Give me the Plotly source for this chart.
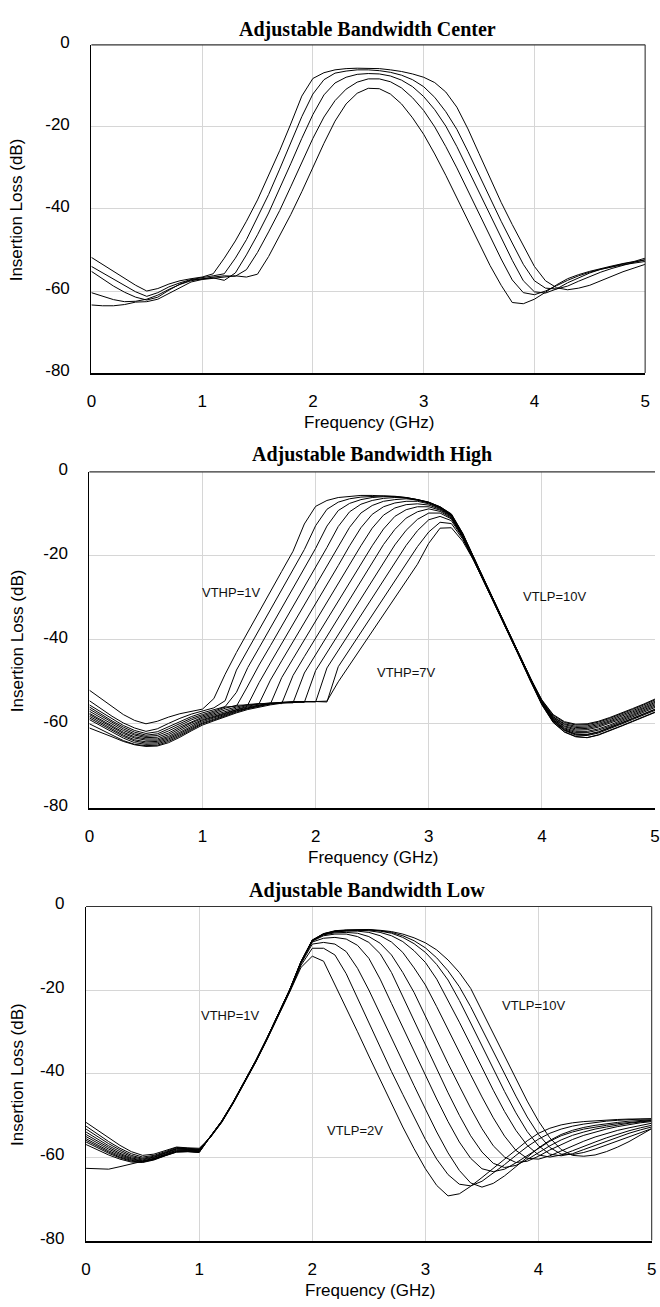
import plotly.graph_objects as go

# ---------------------------------------------------------------- data ----
freq_ghz = [0.0, 0.1, 0.2, 0.3, 0.4, 0.5, 0.6, 0.7, 0.8, 0.9, 1.0,
            1.1, 1.2, 1.3, 1.4, 1.5, 1.6, 1.7, 1.8, 1.9, 2.0,
            2.1, 2.2, 2.3, 2.4, 2.5, 2.6, 2.7, 2.8, 2.9, 3.0,
            3.1, 3.2, 3.3, 3.4, 3.5, 3.6, 3.7, 3.8, 3.9, 4.0,
            4.1, 4.2, 4.3, 4.4, 4.5, 4.6, 4.7, 4.8, 4.9, 5.0]

x_ticks = [0, 1, 2, 3, 4, 5]
y_ticks = [0, -20, -40, -60, -80]

# Adjustable Bandwidth Center (widest -> narrowest), insertion loss in dB
center_bw1 = [-51.8, -53.5, -55.3, -57.0, -58.6, -60.0, -59.4, -58.3, -57.5, -57.0, -56.6,
              -55.8, -52.0, -47.8, -43.0, -37.8, -32.0, -25.8, -19.3, -12.5, -8.2,
              -6.8, -6.1, -5.8, -5.7, -5.7, -5.8, -6.1, -6.5, -7.1, -7.9,
              -9.2, -11.5, -15.2, -20.5, -26.5, -32.6, -38.4, -43.8, -49.0, -54.0,
              -57.5, -59.2, -59.7, -59.3, -58.6, -57.5, -56.4, -55.3, -54.4, -53.5]
center_bw2 = [-54.0, -55.6, -57.2, -58.8, -60.2, -61.3, -60.4, -59.0, -58.0, -57.2, -56.8,
              -56.3, -55.8, -52.0, -47.5, -42.2, -36.5, -30.3, -24.0, -17.5, -12.0,
              -8.5, -6.9, -6.4, -6.1, -6.1, -6.3, -6.7, -7.4, -8.5, -10.2,
              -12.8, -16.3, -20.6, -26.0, -31.8, -37.6, -43.0, -48.3, -53.5, -57.5,
              -59.3, -59.5, -58.8, -57.6, -56.5, -55.4, -54.5, -53.7, -53.0, -52.4]
center_bw3 = [-55.2, -57.0, -58.8, -60.3, -61.5, -62.2, -61.5, -59.8, -58.3, -57.3, -57.0,
              -56.8, -57.4, -55.6, -51.2, -46.3, -41.0, -35.2, -29.0, -22.8, -17.0,
              -12.2, -9.3, -7.9, -7.2, -7.0, -7.1, -7.6, -8.6, -10.2, -12.6,
              -15.8, -19.8, -24.8, -30.3, -36.0, -41.6, -47.0, -52.5, -57.5, -60.2,
              -60.5, -59.5, -58.0, -56.7, -55.6, -54.7, -54.0, -53.4, -52.9, -52.4]
center_bw4 = [-60.4, -61.3, -62.1, -62.6, -62.5, -62.0, -61.0, -59.6, -58.4, -57.5, -57.0,
              -56.6, -56.3, -56.4, -54.8, -50.6, -45.6, -40.4, -34.6, -28.6, -22.8,
              -17.6, -13.6, -10.8, -9.1, -8.3, -8.3, -9.0, -10.5, -12.9, -16.0,
              -20.0, -24.8, -30.0, -35.6, -41.2, -46.7, -52.2, -57.3, -60.4, -60.9,
              -60.0, -58.7, -57.4, -56.3, -55.4, -54.7, -54.1, -53.6, -53.2, -52.8]
center_bw5 = [-63.4, -63.6, -63.6, -63.3, -62.7, -62.6, -62.0, -60.6, -59.0, -57.8, -57.2,
              -56.9, -56.5, -56.3, -56.6, -55.9, -51.6, -46.6, -41.4, -35.8, -29.9,
              -24.0, -18.6, -14.4, -11.8, -10.6, -10.7, -12.0, -14.4, -17.8, -21.8,
              -26.6, -31.8, -37.2, -42.8, -48.4, -53.8, -58.6, -62.8, -63.1, -62.0,
              -60.3, -58.5, -57.0, -56.0, -55.2, -54.5, -53.9, -53.3, -52.8, -52.0]

# Adjustable Bandwidth High: VTHP swept 1 V ... 7 V
vthp_1_0 = [-52.0, -54.0, -56.0, -57.8, -59.2, -60.0, -59.4, -58.4, -57.6, -57.0, -56.5,
            -54.0, -48.2, -43.0, -38.1, -33.3, -28.5, -23.7, -18.9, -12.4, -8.2,
            -6.8, -6.1, -5.8, -5.6, -5.6, -5.7, -5.9, -6.2, -6.7, -7.3,
            -8.3, -10.0, -14.6, -20.6, -26.3, -32.0, -37.8, -43.5, -49.2, -54.3,
            -57.8, -59.5, -60.1, -60.0, -59.4, -58.5, -57.5, -56.4, -55.3, -54.1]
vthp_1_5 = [-54.5, -56.4, -58.2, -59.8, -61.0, -61.8, -61.2, -59.9, -58.7, -57.7, -57.0,
            -56.2, -54.5, -47.2, -42.4, -37.6, -32.9, -28.1, -23.4, -18.5, -12.8,
            -8.9, -7.2, -6.4, -6.0, -5.8, -5.7, -5.8, -6.1, -6.6, -7.2,
            -8.3, -10.1, -14.7, -20.6, -26.3, -32.0, -37.8, -43.5, -49.3, -54.4,
            -58.0, -59.7, -60.3, -60.2, -59.6, -58.7, -57.7, -56.6, -55.5, -54.3]
vthp_2_0 = [-55.5, -57.2, -58.9, -60.4, -61.6, -62.3, -61.9, -60.7, -59.4, -58.3, -57.4,
            -56.6, -55.9, -52.5, -46.6, -41.9, -37.2, -32.5, -27.8, -23.1, -18.2,
            -12.9, -9.2, -7.5, -6.6, -6.1, -5.9, -5.9, -6.1, -6.6, -7.2,
            -8.4, -10.2, -14.8, -20.7, -26.4, -32.1, -37.9, -43.6, -49.4, -54.6,
            -58.3, -60.0, -60.6, -60.5, -59.9, -59.0, -58.0, -56.9, -55.8, -54.6]
vthp_2_5 = [-56.0, -57.7, -59.3, -60.8, -62.0, -62.7, -62.4, -61.2, -59.9, -58.7, -57.8,
            -57.0, -56.0, -55.8, -51.0, -46.0, -41.4, -36.7, -32.0, -27.4, -22.8,
            -18.0, -13.0, -9.5, -7.7, -6.8, -6.3, -6.1, -6.2, -6.6, -7.3,
            -8.5, -10.3, -14.9, -20.7, -26.4, -32.1, -37.9, -43.7, -49.5, -54.7,
            -58.4, -60.2, -60.9, -60.8, -60.2, -59.3, -58.3, -57.2, -56.1, -54.9]
vthp_3_0 = [-56.5, -58.1, -59.7, -61.2, -62.4, -63.0, -62.8, -61.7, -60.4, -59.1, -58.1,
            -57.3, -56.3, -55.6, -55.5, -50.2, -45.5, -40.9, -36.3, -31.7, -27.1,
            -22.5, -17.8, -13.2, -9.8, -8.0, -7.0, -6.6, -6.4, -6.7, -7.4,
            -8.6, -10.4, -15.0, -20.8, -26.5, -32.2, -38.0, -43.7, -49.5, -54.8,
            -58.6, -60.5, -61.2, -61.1, -60.5, -59.6, -58.6, -57.5, -56.4, -55.2]
vthp_3_5 = [-57.0, -58.5, -60.1, -61.6, -62.7, -63.3, -63.2, -62.2, -60.8, -59.5, -58.4,
            -57.6, -56.7, -56.0, -55.4, -55.2, -49.6, -45.0, -40.5, -35.9, -31.4,
            -26.8, -22.3, -17.6, -13.3, -10.1, -8.3, -7.4, -7.0, -7.0, -7.6,
            -8.7, -10.5, -15.1, -20.8, -26.5, -32.2, -38.0, -43.8, -49.6, -54.9,
            -58.7, -60.7, -61.5, -61.4, -60.8, -59.9, -58.9, -57.8, -56.7, -55.5]
vthp_4_0 = [-57.5, -59.0, -60.5, -62.0, -63.1, -63.6, -63.6, -62.6, -61.2, -59.8, -58.7,
            -57.9, -57.0, -56.3, -55.6, -55.2, -55.3, -49.0, -44.5, -40.0, -35.5,
            -31.0, -26.5, -22.0, -17.6, -13.4, -10.3, -8.6, -7.8, -7.6, -7.9,
            -8.9, -10.6, -15.2, -20.9, -26.6, -32.3, -38.0, -43.8, -49.6, -55.0,
            -58.9, -61.0, -61.8, -61.8, -61.2, -60.3, -59.2, -58.1, -57.0, -55.8]
vthp_4_5 = [-57.8, -59.3, -60.8, -62.3, -63.4, -63.9, -63.9, -63.0, -61.6, -60.2, -59.0,
            -58.2, -57.3, -56.5, -55.8, -55.3, -55.0, -55.2, -48.5, -44.0, -39.6,
            -35.1, -30.7, -26.2, -21.8, -17.6, -13.6, -10.6, -9.0, -8.3, -8.3,
            -9.1, -10.8, -15.3, -20.9, -26.6, -32.3, -38.1, -43.9, -49.7, -55.1,
            -59.0, -61.2, -62.1, -62.1, -61.5, -60.6, -59.5, -58.4, -57.3, -56.1]
vthp_5_0 = [-58.2, -59.7, -61.2, -62.7, -63.8, -64.3, -64.2, -63.3, -62.0, -60.5, -59.2,
            -58.4, -57.5, -56.7, -56.0, -55.5, -55.1, -54.9, -55.0, -47.9, -43.5,
            -39.1, -34.7, -30.3, -25.9, -21.5, -17.3, -13.7, -11.0, -9.5, -8.8,
            -9.4, -11.0, -15.4, -21.0, -26.7, -32.3, -38.1, -43.9, -49.7, -55.2,
            -59.2, -61.4, -62.4, -62.5, -61.9, -60.9, -59.8, -58.7, -57.6, -56.5]
vthp_5_5 = [-58.6, -60.1, -61.6, -63.0, -64.1, -64.6, -64.5, -63.6, -62.3, -60.8, -59.5,
            -58.6, -57.7, -56.9, -56.2, -55.6, -55.2, -54.9, -54.8, -54.9, -47.3,
            -43.0, -38.7, -34.4, -30.1, -25.8, -21.5, -17.4, -13.9, -11.3, -9.8,
            -9.8, -11.2, -15.5, -21.0, -26.7, -32.4, -38.2, -44.0, -49.8, -55.3,
            -59.4, -61.6, -62.7, -62.8, -62.2, -61.2, -60.1, -59.0, -57.9, -56.8]
vthp_6_0 = [-59.0, -60.5, -62.0, -63.4, -64.5, -64.9, -64.8, -63.9, -62.6, -61.1, -59.8,
            -58.9, -57.9, -57.0, -56.3, -55.7, -55.2, -54.9, -54.7, -54.7, -54.8,
            -46.7, -42.5, -38.3, -34.1, -29.9, -25.7, -21.5, -17.5, -14.0, -11.4,
            -10.6, -11.6, -15.7, -21.2, -26.8, -32.4, -38.2, -44.0, -49.9, -55.4,
            -59.6, -61.9, -63.0, -63.3, -62.6, -61.6, -60.5, -59.4, -58.3, -57.2]
vthp_6_5 = [-60.0, -61.3, -62.7, -64.0, -64.9, -65.2, -65.1, -64.2, -62.9, -61.4, -60.0,
            -59.1, -58.1, -57.2, -56.4, -55.8, -55.3, -55.0, -54.8, -54.7, -54.7,
            -54.8, -46.4, -42.3, -38.2, -34.1, -30.0, -25.9, -21.8, -17.8, -14.3,
            -12.0, -12.3, -16.0, -21.1, -26.7, -32.4, -38.1, -43.9, -49.8, -55.2,
            -59.3, -61.5, -62.5, -62.6, -62.0, -61.0, -59.9, -58.8, -57.7, -56.6]
vthp_7_0 = [-61.0, -62.0, -63.1, -64.2, -65.0, -65.4, -65.3, -64.5, -63.2, -61.7, -60.3,
            -59.3, -58.3, -57.4, -56.6, -56.0, -55.5, -55.1, -54.9, -54.8, -54.7,
            -54.6, -50.0, -46.0, -42.0, -38.0, -34.0, -30.0, -26.0, -22.0, -17.0,
            -13.4, -13.3, -16.5, -21.2, -26.8, -32.4, -38.2, -44.0, -49.9, -55.5,
            -59.7, -62.0, -63.1, -63.3, -62.7, -61.7, -60.6, -59.5, -58.4, -57.3]

# Adjustable Bandwidth Low: VTLP swept 2 V ... 10 V
vtlp_01 = [-51.7, -53.6, -55.4, -57.2, -58.7, -59.6, -59.3, -58.5, -57.6, -57.8, -57.9,
           -55.3, -51.7, -47.2, -42.4, -37.3, -31.9, -26.3, -20.5, -14.6, -11.9,
           -13.1, -18.6, -24.3, -30.0, -35.8, -41.6, -47.3, -52.8, -58.0, -62.8,
           -66.8, -69.3, -68.8, -67.0, -64.9, -62.7, -60.4, -58.2, -56.1, -54.3,
           -53.1, -52.3, -51.8, -51.5, -51.3, -51.1, -51.0, -50.9, -50.9, -50.9]
vtlp_02 = [-52.6, -54.5, -56.3, -57.9, -59.2, -60.0, -59.6, -58.7, -57.7, -57.9, -58.1,
           -55.2, -51.6, -47.1, -42.3, -37.2, -31.8, -26.2, -20.4, -14.1, -10.0,
           -10.0, -11.6, -16.1, -22.0, -28.0, -33.9, -39.5, -45.0, -50.5, -55.8,
           -60.5, -64.2, -66.5, -66.9, -65.8, -63.9, -61.8, -59.6, -57.5, -55.7,
           -54.3, -53.3, -52.6, -52.1, -51.7, -51.4, -51.2, -51.0, -50.9, -50.8]
vtlp_03 = [-53.3, -55.1, -56.8, -58.3, -59.6, -60.3, -59.8, -58.9, -57.9, -58.0, -58.2,
           -55.2, -51.6, -47.0, -42.2, -37.1, -31.7, -26.1, -20.2, -13.7, -9.0,
           -8.6, -9.0, -10.8, -14.8, -20.0, -25.8, -31.6, -37.3, -42.9, -48.5,
           -54.0, -59.0, -63.2, -66.2, -67.2, -66.3, -64.5, -62.3, -60.0, -57.8,
           -56.0, -54.6, -53.6, -52.9, -52.4, -52.0, -51.7, -51.4, -51.2, -51.1]
vtlp_04 = [-54.0, -55.7, -57.3, -58.7, -59.9, -60.5, -60.0, -59.0, -58.0, -58.1, -58.3,
           -55.1, -51.5, -47.1, -42.3, -37.2, -31.7, -26.1, -20.2, -13.5, -8.5,
           -7.6, -7.4, -7.8, -9.3, -12.4, -17.4, -23.2, -29.0, -34.8, -40.5,
           -46.1, -51.5, -56.4, -60.3, -62.8, -63.5, -62.9, -61.4, -59.6, -57.8,
           -56.2, -54.9, -54.0, -53.3, -52.8, -52.4, -52.0, -51.7, -51.4, -51.2]
vtlp_05 = [-54.6, -56.2, -57.7, -59.1, -60.2, -60.7, -60.1, -59.1, -58.1, -58.2, -58.4,
           -55.0, -51.4, -47.0, -42.2, -37.1, -31.6, -26.0, -20.1, -13.4, -8.3,
           -7.0, -6.6, -6.6, -7.2, -8.6, -11.3, -15.8, -21.6, -27.5, -33.3,
           -39.0, -44.6, -50.0, -54.9, -58.8, -61.5, -62.5, -62.0, -60.6, -58.9,
           -57.3, -55.9, -54.8, -54.0, -53.3, -52.8, -52.3, -51.9, -51.6, -51.3]
vtlp_06 = [-55.1, -56.7, -58.1, -59.4, -60.4, -60.9, -60.3, -59.3, -58.3, -58.3, -58.5,
           -55.2, -51.5, -47.0, -42.1, -37.0, -31.6, -26.0, -20.1, -13.4, -8.2,
           -6.8, -6.3, -6.2, -6.4, -7.2, -8.8, -11.6, -15.8, -20.6, -26.3,
           -32.1, -37.6, -43.0, -48.3, -53.2, -57.3, -60.0, -61.3, -61.0, -59.8,
           -58.3, -57.0, -55.8, -54.8, -54.0, -53.3, -52.7, -52.2, -51.8, -51.5]
vtlp_07 = [-55.6, -57.1, -58.5, -59.7, -60.6, -61.0, -60.4, -59.4, -58.4, -58.4, -58.6,
           -55.1, -51.4, -46.9, -42.1, -37.0, -31.5, -25.9, -20.0, -13.3, -8.1,
           -6.7, -6.1, -5.9, -5.9, -6.2, -7.0, -8.5, -11.0, -14.7, -18.8,
           -24.0, -29.5, -35.0, -40.3, -45.6, -50.6, -55.0, -58.4, -60.3, -60.5,
           -59.7, -58.5, -57.3, -56.2, -55.2, -54.4, -53.6, -53.0, -52.4, -51.9]
vtlp_08 = [-56.0, -57.5, -58.8, -60.0, -60.8, -61.1, -60.5, -59.5, -58.6, -58.5, -58.7,
           -55.0, -51.4, -46.9, -42.0, -36.9, -31.5, -25.9, -20.0, -13.3, -8.1,
           -6.6, -6.0, -5.8, -5.7, -5.8, -6.2, -7.0, -8.4, -10.6, -13.4,
           -17.4, -22.4, -27.7, -33.1, -38.6, -44.0, -49.1, -53.6, -57.2, -59.5,
           -60.0, -59.5, -58.5, -57.4, -56.4, -55.4, -54.5, -53.7, -53.0, -52.4]
vtlp_09 = [-56.4, -57.8, -59.1, -60.2, -61.0, -61.2, -60.6, -59.6, -58.7, -58.6, -58.8,
           -55.1, -51.5, -47.0, -42.1, -37.0, -31.6, -26.0, -20.0, -13.3, -8.1,
           -6.6, -5.9, -5.7, -5.6, -5.6, -5.9, -6.4, -7.4, -8.9, -11.0,
           -13.9, -17.6, -22.5, -27.9, -33.4, -38.9, -44.3, -49.4, -53.9, -57.3,
           -59.3, -59.7, -59.2, -58.2, -57.2, -56.2, -55.2, -54.3, -53.5, -52.8]
vtlp_10 = [-57.0, -58.3, -59.5, -60.5, -61.2, -61.3, -60.7, -59.7, -58.8, -58.7, -58.9,
           -55.0, -51.3, -46.8, -42.0, -36.9, -31.5, -25.9, -19.9, -13.2, -8.1,
           -6.5, -5.9, -5.7, -5.6, -5.6, -5.8, -6.2, -7.0, -8.2, -9.9,
           -12.3, -15.4, -19.2, -24.0, -29.4, -34.8, -40.2, -45.4, -50.4, -54.6,
           -57.7, -59.3, -59.4, -58.9, -58.1, -57.1, -56.1, -55.1, -54.1, -53.2]
vtlp_11 = [-62.7, -62.8, -62.9, -62.3, -61.6, -61.0, -60.5, -59.6, -58.8, -58.7, -58.9,
           -55.1, -51.4, -46.9, -42.1, -37.0, -31.5, -25.9, -19.9, -13.2, -8.0,
           -6.5, -5.8, -5.6, -5.5, -5.5, -5.7, -6.0, -6.6, -7.5, -8.7,
           -10.4, -12.8, -15.8, -19.6, -25.0, -30.5, -36.0, -41.4, -46.6, -51.4,
           -55.4, -58.2, -59.6, -59.8, -59.5, -58.7, -57.6, -56.3, -54.8, -53.2]

center_curves = [center_bw1, center_bw2, center_bw3, center_bw4, center_bw5]
high_curves = [vthp_1_0, vthp_1_5, vthp_2_0, vthp_2_5, vthp_3_0, vthp_3_5, vthp_4_0,
               vthp_4_5, vthp_5_0, vthp_5_5, vthp_6_0, vthp_6_5, vthp_7_0]
low_curves = [vtlp_01, vtlp_02, vtlp_03, vtlp_04, vtlp_05, vtlp_06, vtlp_07, vtlp_08,
              vtlp_09, vtlp_10, vtlp_11]

# --------------------------------------------------------------- layout ---
W, H = 660, 1307


def px(xp):
    return xp / W


def py(yp):
    return 1 - yp / H


# plot boxes in page pixels: left, right, top, bottom
panels = [
    dict(title="Adjustable Bandwidth Center", box=(87.7, 650.0, 33.3, 366.4),
         title_xy=(368, 18), curves=center_curves, right_border=True,
         notes=[]),
    dict(title="Adjustable Bandwidth High", box=(85.7, 660.0, 466.7, 807.5),
         title_xy=(373, 449), curves=high_curves, right_border=False,
         notes=[("VTHP=1V", 1.25, -28.7), ("VTLP=10V", 4.12, -29.6),
                ("VTHP=7V", 2.80, -47.7)]),
    dict(title="Adjustable Bandwidth Low", box=(82.3, 656.6, 907.7, 1246.7),
         title_xy=(368, 891), curves=low_curves, right_border=True,
         notes=[("VTHP=1V", 1.27, -26.2), ("VTLP=10V", 3.96, -23.8),
                ("VTLP=2V", 2.38, -53.6)]),
]

tick_font = dict(family="Liberation Sans, Arial, sans-serif", size=17, color="#000")
note_font = dict(family="Liberation Sans Narrow, Arial Narrow, sans-serif", size=13,
                 color="#111")
title_font = dict(family="Liberation Serif, Times New Roman, serif", size=20,
                  color="#000")

fig = go.Figure()
annotations = []
shapes = []
layout_axes = {}

for i, p in enumerate(panels, start=1):
    xl, xr, yt, yb = p["box"]
    xa = "x" if i == 1 else f"x{i}"
    ya = "y" if i == 1 else f"y{i}"
    for curve in p["curves"]:
        fig.add_trace(go.Scatter(
            x=freq_ghz, y=curve, mode="lines", xaxis=xa, yaxis=ya,
            line=dict(color="#000", width=1), hoverinfo="skip", showlegend=False))

    layout_axes["xaxis" if i == 1 else f"xaxis{i}"] = dict(
        domain=[px(xl), min(px(xr), 1.0)], anchor=ya, range=[0, 5],
        tickvals=x_ticks, ticktext=[str(v) for v in x_ticks],
        showgrid=True, gridcolor="#d6d6d6", gridwidth=1, zeroline=False,
        showline=True, linecolor="#000", linewidth=1.6, ticks="",
        tickfont=tick_font, ticklabelstandoff=12, ticklabeloverflow="allow",
        fixedrange=True)
    layout_axes["yaxis" if i == 1 else f"yaxis{i}"] = dict(
        domain=[py(yb), py(yt)], anchor=xa, range=[-80, 0],
        tickvals=y_ticks, ticktext=[str(v) for v in y_ticks],
        showgrid=True, gridcolor="#d6d6d6", gridwidth=1, zeroline=False,
        showline=True, linecolor="#000", linewidth=1.3, ticks="",
        tickfont=tick_font, ticklabelstandoff=17, ticklabelshift=-3,
        ticklabeloverflow="allow", fixedrange=True)

    # top (and right) frame of the plot area
    shapes.append(dict(type="line", xref="paper", yref="paper",
                       x0=px(xl), x1=min(px(xr), 1.0), y0=py(yt), y1=py(yt),
                       line=dict(color="#333", width=1.2)))
    if p["right_border"]:
        shapes.append(dict(type="line", xref="paper", yref="paper",
                           x0=px(xr), x1=px(xr), y0=py(yt), y1=py(yb),
                           line=dict(color="#444", width=1.2)))

    tx, ty = p["title_xy"]
    annotations.append(dict(text="<b>" + p["title"] + "</b>", xref="paper",
                            yref="paper", x=px(tx), y=py(ty), xanchor="center",
                            yanchor="middle", showarrow=False, font=title_font))
    # axis titles
    annotations.append(dict(text="Frequency (GHz)", xref="paper", yref="paper",
                            x=px((xl + xr) / 2 + 1), y=py(yb + 50.5),
                            xanchor="center", yanchor="middle", showarrow=False,
                            font=tick_font))
    annotations.append(dict(text="Insertion Loss (dB)", xref="paper", yref="paper",
                            x=px(12.6), y=py((yt + yb) / 2 + 1), textangle=-90,
                            xanchor="center", yanchor="middle", showarrow=False,
                            font=tick_font))
    for label, fx, db in p["notes"]:
        annotations.append(dict(text=label, xref=xa, yref=ya, x=fx, y=db,
                                xanchor="center", yanchor="middle",
                                showarrow=False, font=note_font))

fig.update_layout(
    width=W, height=H, margin=dict(l=0, r=0, t=0, b=0),
    paper_bgcolor="white", plot_bgcolor="white", showlegend=False,
    annotations=annotations, shapes=shapes, **layout_axes)

fig.write_html("out.html")
